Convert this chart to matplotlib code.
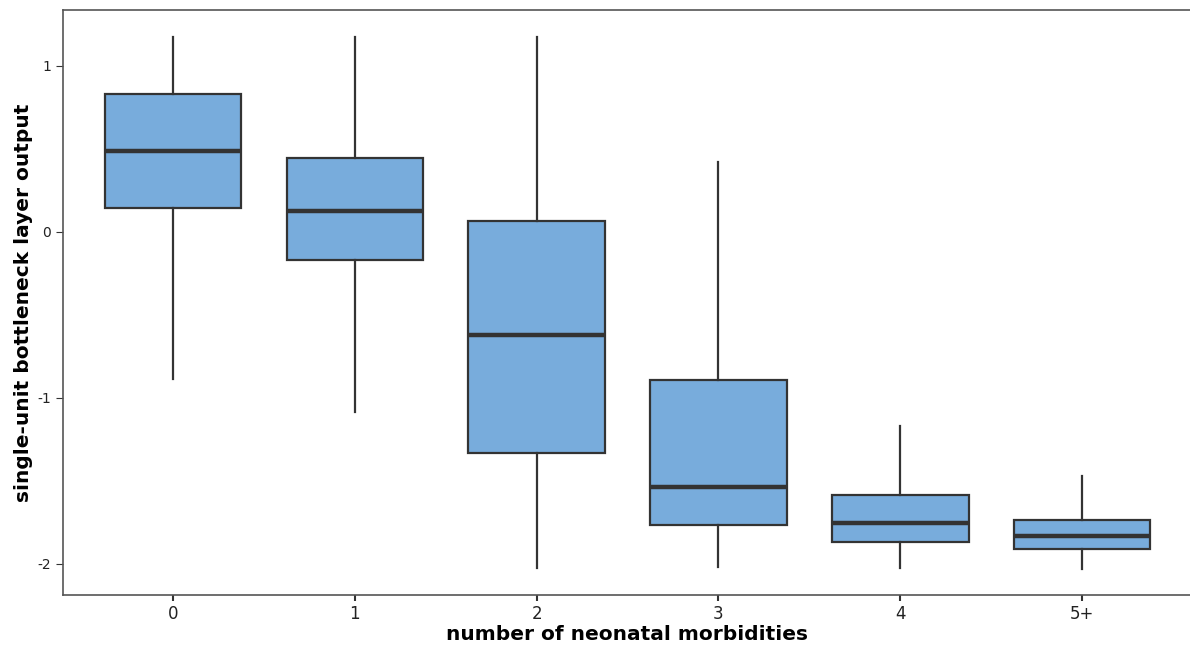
import matplotlib
matplotlib.use("Agg")
import matplotlib.pyplot as plt

categories = ["0", "1", "2", "3", "4", "5+"]
whisker_low = [-0.886, -1.084, -2.024, -2.018, -2.024, -2.030]
q1 = [0.145, -0.169, -1.331, -1.765, -1.867, -1.910]
median = [0.488, 0.127, -0.620, -1.536, -1.753, -1.831]
q3 = [0.831, 0.446, 0.066, -0.892, -1.584, -1.735]
whisker_high = [1.175, 1.175, 1.175, 0.422, -1.169, -1.470]

stats = []
for i, c in enumerate(categories):
    stats.append(dict(label=c, whislo=whisker_low[i], q1=q1[i], med=median[i],
                      q3=q3[i], whishi=whisker_high[i], fliers=[]))

fig = plt.figure(figsize=(11.9, 6.51), dpi=100)
ax = fig.add_axes([0.053, 0.086, 0.947, 0.8986])

edge = "#333333"
ax.bxp(stats, positions=range(len(categories)), widths=0.75, patch_artist=True,
       showcaps=False, showfliers=False,
       boxprops=dict(facecolor="#78acdc", edgecolor=edge, linewidth=1.6),
       medianprops=dict(color=edge, linewidth=3.2),
       whiskerprops=dict(color=edge, linewidth=1.6))

ax.set_xlim(-0.604, 5.593)
ax.set_ylim(-2.187, 1.337)
ax.set_yticks([-2, -1, 0, 1])
ax.set_yticklabels(["-2", "-1", "0", "1"])
ax.set_xticks(range(len(categories)))
ax.set_xticklabels(categories)

for s in ["left", "top", "bottom"]:
    ax.spines[s].set_color("#555555")
    ax.spines[s].set_linewidth(1.2)
ax.spines["right"].set_visible(False)

ax.tick_params(axis="y", labelsize=10, length=5, color="#333333", labelcolor="#222222")
ax.tick_params(axis="x", labelsize=12, length=4, width=1.5, color="#333333", labelcolor="#222222")

ax.set_xlabel("number of neonatal morbidities", fontsize=14.5, fontweight="bold", labelpad=1)
ax.set_ylabel("single-unit bottleneck layer output", fontsize=14.5, fontweight="bold", labelpad=3)

fig.savefig("out.png", dpi=100)
